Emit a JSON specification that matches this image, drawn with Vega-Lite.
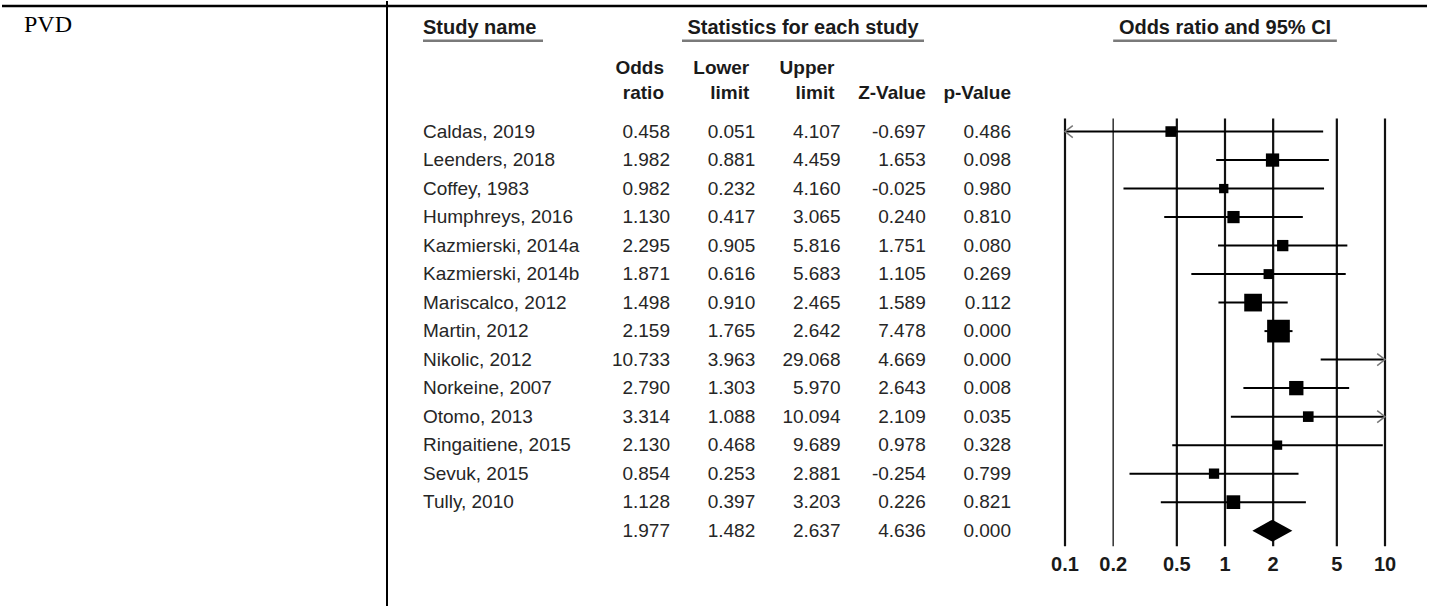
{
  "$schema": "https://vega.github.io/schema/vega-lite/v6.json",
  "width": 1429,
  "height": 607,
  "padding": 0,
  "autosize": {"type": "fit", "contains": "padding"},
  "background": "white",
  "config": {
    "view": {"stroke": null},
    "text": {"font": "Liberation Sans", "fontSize": 19, "color": "#262626"},
    "locale": {"number": {"decimal": ".", "thousands": ",", "grouping": [3], "currency": ["$", ""], "minus": "-"}}
  },
  "datasets": {
    "studies": [
      {"row": 0, "study": "Caldas, 2019", "or": 0.458, "lower": 0.051, "upper": 4.107, "z": -0.697, "p": 0.486, "weight": 4.7},
      {"row": 1, "study": "Leenders, 2018", "or": 1.982, "lower": 0.881, "upper": 4.459, "z": 1.653, "p": 0.098, "weight": 7.3},
      {"row": 2, "study": "Coffey, 1983", "or": 0.982, "lower": 0.232, "upper": 4.160, "z": -0.025, "p": 0.980, "weight": 3.6},
      {"row": 3, "study": "Humphreys, 2016", "or": 1.130, "lower": 0.417, "upper": 3.065, "z": 0.240, "p": 0.810, "weight": 6.2},
      {"row": 4, "study": "Kazmierski, 2014a", "or": 2.295, "lower": 0.905, "upper": 5.816, "z": 1.751, "p": 0.080, "weight": 5.3},
      {"row": 5, "study": "Kazmierski, 2014b", "or": 1.871, "lower": 0.616, "upper": 5.683, "z": 1.105, "p": 0.269, "weight": 4.1},
      {"row": 6, "study": "Mariscalco, 2012", "or": 1.498, "lower": 0.910, "upper": 2.465, "z": 1.589, "p": 0.112, "weight": 13.0},
      {"row": 7, "study": "Martin, 2012", "or": 2.159, "lower": 1.765, "upper": 2.642, "z": 7.478, "p": 0.000, "weight": 21.4},
      {"row": 8, "study": "Nikolic, 2012", "or": 10.733, "lower": 3.963, "upper": 29.068, "z": 4.669, "p": 0.000, "weight": 5.4},
      {"row": 9, "study": "Norkeine, 2007", "or": 2.790, "lower": 1.303, "upper": 5.970, "z": 2.643, "p": 0.008, "weight": 8.5},
      {"row": 10, "study": "Otomo, 2013", "or": 3.314, "lower": 1.088, "upper": 10.094, "z": 2.109, "p": 0.035, "weight": 4.7},
      {"row": 11, "study": "Ringaitiene, 2015", "or": 2.130, "lower": 0.468, "upper": 9.689, "z": 0.978, "p": 0.328, "weight": 3.6},
      {"row": 12, "study": "Sevuk, 2015", "or": 0.854, "lower": 0.253, "upper": 2.881, "z": -0.254, "p": 0.799, "weight": 4.4},
      {"row": 13, "study": "Tully, 2010", "or": 1.128, "lower": 0.397, "upper": 3.203, "z": 0.226, "p": 0.821, "weight": 7.8},
      {"row": 14, "study": "", "or": 1.977, "lower": 1.482, "upper": 2.637, "z": 4.636, "p": 0.000, "weight": 100}
    ],
    "ticks": [{"t": 0.1}, {"t": 0.2}, {"t": 0.5}, {"t": 1}, {"t": 2}, {"t": 5}, {"t": 10}],
    "subheads": [
      {"key": "or", "l1": "Odds", "l2": "ratio"},
      {"key": "lower", "l1": "Lower", "l2": "limit"},
      {"key": "upper", "l1": "Upper", "l2": "limit"},
      {"key": "z", "l1": "", "l2": "Z-Value"},
      {"key": "p", "l1": "", "l2": "p-Value"}
    ],
    "one": [{}]
  },
  "resolve": {"scale": {"x": "independent"}},
  "layer": [
    {
      "data": {"name": "one"},
      "mark": {"type": "rule", "stroke": "#000", "strokeWidth": 2.5},
      "encoding": {
        "y": {"datum": -4.406, "type": "quantitative", "axis": null, "scale": {"domain": [-4.58, 16.643], "reverse": true, "nice": false, "zero": false}}
      }
    },
    {
      "data": {"name": "one"},
      "mark": {"type": "rule", "stroke": "#000", "strokeWidth": 2},
      "encoding": {
        "x": {"datum": "border", "type": "nominal", "axis": null, "scale": {"type": "point", "domain": ["label", "border"], "range": [22, 385], "padding": 0}}
      }
    },
    {
      "data": {"name": "one"},
      "mark": {"type": "text", "text": "PVD", "align": "left", "baseline": "middle", "font": "Liberation Serif", "fontSize": 24, "color": "#000"},
      "encoding": {
        "x": {"datum": "label", "type": "nominal", "axis": null, "scale": {"type": "point", "domain": ["label", "border"], "range": [22, 385], "padding": 0}},
        "y": {"datum": -3.74, "type": "quantitative", "axis": null, "scale": {"domain": [-4.58, 16.643], "reverse": true, "nice": false, "zero": false}}
      }
    },
    {
      "data": {"name": "one"},
      "mark": {"type": "text", "text": "Study name", "align": "left", "baseline": "middle", "fontWeight": "bold", "fontSize": 20, "color": "#1a1a1a"},
      "encoding": {
        "x": {"datum": "a", "type": "nominal", "axis": null, "scale": {"type": "point", "domain": ["a", "b"], "range": [421, 541], "padding": 0}},
        "y": {"datum": -3.636, "type": "quantitative", "axis": null, "scale": {"domain": [-4.58, 16.643], "reverse": true, "nice": false, "zero": false}}
      }
    },
    {
      "data": {"name": "one"},
      "mark": {"type": "rule", "stroke": "#7a7a7a", "strokeWidth": 2.5},
      "encoding": {
        "x": {"datum": "a", "type": "nominal", "axis": null, "scale": {"type": "point", "domain": ["a", "b"], "range": [421, 541], "padding": 0}},
        "x2": {"datum": "b"},
        "y": {"datum": -3.182, "type": "quantitative", "axis": null, "scale": {"domain": [-4.58, 16.643], "reverse": true, "nice": false, "zero": false}}
      }
    },
    {
      "data": {"name": "one"},
      "mark": {"type": "text", "text": "Statistics for each study", "align": "center", "baseline": "middle", "fontWeight": "bold", "fontSize": 20, "color": "#1a1a1a"},
      "encoding": {
        "x": {"datum": "m", "type": "nominal", "axis": null, "scale": {"type": "point", "domain": ["a", "m", "b"], "range": [680, 922], "padding": 0}},
        "y": {"datum": -3.636, "type": "quantitative", "axis": null, "scale": {"domain": [-4.58, 16.643], "reverse": true, "nice": false, "zero": false}}
      }
    },
    {
      "data": {"name": "one"},
      "mark": {"type": "rule", "stroke": "#7a7a7a", "strokeWidth": 2.5},
      "encoding": {
        "x": {"datum": "a", "type": "nominal", "axis": null, "scale": {"type": "point", "domain": ["a", "m", "b"], "range": [680, 922], "padding": 0}},
        "x2": {"datum": "b"},
        "y": {"datum": -3.182, "type": "quantitative", "axis": null, "scale": {"domain": [-4.58, 16.643], "reverse": true, "nice": false, "zero": false}}
      }
    },
    {
      "data": {"name": "subheads"},
      "transform": [{"filter": "datum.key != 'z' && datum.key != 'p'"}],
      "mark": {"type": "text", "align": "right", "baseline": "middle", "fontWeight": "bold", "color": "#1a1a1a", "dx": -6},
      "encoding": {
        "x": {"field": "key", "type": "nominal", "axis": null, "scale": {"type": "point", "domain": ["or", "lower", "upper", "z", "p"], "range": [668, 1009], "padding": 0}},
        "y": {"datum": -2.238, "type": "quantitative", "axis": null, "scale": {"domain": [-4.58, 16.643], "reverse": true, "nice": false, "zero": false}},
        "text": {"field": "l1", "type": "nominal"}
      }
    },
    {
      "data": {"name": "subheads"},
      "transform": [{"filter": "datum.key != 'z' && datum.key != 'p'"}],
      "mark": {"type": "text", "align": "right", "baseline": "middle", "fontWeight": "bold", "color": "#1a1a1a", "dx": -6},
      "encoding": {
        "x": {"field": "key", "type": "nominal", "axis": null, "scale": {"type": "point", "domain": ["or", "lower", "upper", "z", "p"], "range": [668, 1009], "padding": 0}},
        "y": {"datum": -1.364, "type": "quantitative", "axis": null, "scale": {"domain": [-4.58, 16.643], "reverse": true, "nice": false, "zero": false}},
        "text": {"field": "l2", "type": "nominal"}
      }
    },
    {
      "data": {"name": "subheads"},
      "transform": [{"filter": "datum.key == 'z' || datum.key == 'p'"}],
      "mark": {"type": "text", "align": "right", "baseline": "middle", "fontWeight": "bold", "color": "#1a1a1a"},
      "encoding": {
        "x": {"field": "key", "type": "nominal", "axis": null, "scale": {"type": "point", "domain": ["or", "lower", "upper", "z", "p"], "range": [668, 1009], "padding": 0}},
        "y": {"datum": -1.364, "type": "quantitative", "axis": null, "scale": {"domain": [-4.58, 16.643], "reverse": true, "nice": false, "zero": false}},
        "text": {"field": "l2", "type": "nominal"}
      }
    },
    {
      "data": {"name": "studies"},
      "mark": {"type": "text", "align": "left", "baseline": "middle"},
      "encoding": {
        "x": {"datum": "a", "type": "nominal", "axis": null, "scale": {"type": "point", "domain": ["a", "b"], "range": [421, 541], "padding": 0}},
        "y": {"field": "row", "type": "quantitative", "axis": null, "scale": {"domain": [-4.58, 16.643], "reverse": true, "nice": false, "zero": false}},
        "text": {"field": "study", "type": "nominal"}
      }
    },
    {
      "data": {"name": "studies"},
      "transform": [{"fold": ["or", "lower", "upper", "z", "p"]}],
      "mark": {"type": "text", "align": "right", "baseline": "middle"},
      "encoding": {
        "x": {"field": "key", "type": "nominal", "axis": null, "scale": {"type": "point", "domain": ["or", "lower", "upper", "z", "p"], "range": [668, 1009], "padding": 0}},
        "y": {"field": "row", "type": "quantitative", "axis": null, "scale": {"domain": [-4.58, 16.643], "reverse": true, "nice": false, "zero": false}},
        "text": {"field": "value", "type": "quantitative", "format": ".3f"}
      }
    },
    {
      "data": {"name": "ticks"},
      "mark": {"type": "rule", "stroke": "#111"},
      "encoding": {
        "x": {"field": "t", "type": "quantitative", "axis": null, "scale": {"type": "log", "domain": [0.1, 10], "range": [1063, 1383], "clamp": true, "nice": false}},
        "y": {"datum": -0.455, "type": "quantitative", "axis": null, "scale": {"domain": [-4.58, 16.643], "reverse": true, "nice": false, "zero": false}},
        "y2": {"datum": 14.545},
        "strokeWidth": {"condition": {"test": "datum.t == 0.2", "value": 1.3}, "value": 2.2}
      }
    },
    {
      "data": {"name": "ticks"},
      "mark": {"type": "text", "align": "center", "baseline": "middle", "fontWeight": "bold", "fontSize": 20, "color": "#1a1a1a"},
      "encoding": {
        "x": {"field": "t", "type": "quantitative", "axis": null, "scale": {"type": "log", "domain": [0.1, 10], "range": [1063, 1383], "clamp": true, "nice": false}},
        "y": {"datum": 15.21, "type": "quantitative", "axis": null, "scale": {"domain": [-4.58, 16.643], "reverse": true, "nice": false, "zero": false}},
        "text": {"field": "t", "type": "nominal"}
      }
    },
    {
      "data": {"name": "one"},
      "mark": {"type": "text", "text": "Odds ratio and 95% CI", "align": "center", "baseline": "middle", "fontWeight": "bold", "fontSize": 20, "color": "#1a1a1a"},
      "encoding": {
        "x": {"datum": 1, "type": "quantitative", "axis": null, "scale": {"type": "log", "domain": [0.1, 10], "range": [1063, 1383], "clamp": true, "nice": false}},
        "y": {"datum": -3.636, "type": "quantitative", "axis": null, "scale": {"domain": [-4.58, 16.643], "reverse": true, "nice": false, "zero": false}}
      }
    },
    {
      "data": {"name": "one"},
      "mark": {"type": "rule", "stroke": "#7a7a7a", "strokeWidth": 2.5},
      "encoding": {
        "x": {"datum": 0.2, "type": "quantitative", "axis": null, "scale": {"type": "log", "domain": [0.1, 10], "range": [1063, 1383], "clamp": true, "nice": false}},
        "x2": {"datum": 5},
        "y": {"datum": -3.182, "type": "quantitative", "axis": null, "scale": {"domain": [-4.58, 16.643], "reverse": true, "nice": false, "zero": false}}
      }
    },
    {
      "data": {"name": "studies"},
      "transform": [{"filter": "datum.row < 14"}],
      "mark": {"type": "rule", "stroke": "#000", "strokeWidth": 2},
      "encoding": {
        "x": {"field": "lower", "type": "quantitative", "axis": null, "scale": {"type": "log", "domain": [0.1, 10], "range": [1063, 1383], "clamp": true, "nice": false}},
        "x2": {"field": "upper"},
        "y": {"field": "row", "type": "quantitative", "axis": null, "scale": {"domain": [-4.58, 16.643], "reverse": true, "nice": false, "zero": false}}
      }
    },
    {
      "data": {"name": "studies"},
      "transform": [{"filter": "datum.lower < 0.1"}],
      "mark": {"type": "point", "shape": "M1.3,-1L0,0L1.3,1", "size": 144, "filled": false, "stroke": "#777", "strokeWidth": 1.5, "opacity": 1},
      "encoding": {
        "x": {"datum": 0.1, "type": "quantitative", "axis": null, "scale": {"type": "log", "domain": [0.1, 10], "range": [1063, 1383], "clamp": true, "nice": false}},
        "y": {"field": "row", "type": "quantitative", "axis": null, "scale": {"domain": [-4.58, 16.643], "reverse": true, "nice": false, "zero": false}}
      }
    },
    {
      "data": {"name": "studies"},
      "transform": [{"filter": "datum.upper > 10"}],
      "mark": {"type": "point", "shape": "M-1.3,-1L0,0L-1.3,1", "size": 144, "filled": false, "stroke": "#777", "strokeWidth": 1.5, "opacity": 1},
      "encoding": {
        "x": {"datum": 10, "type": "quantitative", "axis": null, "scale": {"type": "log", "domain": [0.1, 10], "range": [1063, 1383], "clamp": true, "nice": false}},
        "y": {"field": "row", "type": "quantitative", "axis": null, "scale": {"domain": [-4.58, 16.643], "reverse": true, "nice": false, "zero": false}}
      }
    },
    {
      "data": {"name": "studies"},
      "transform": [{"filter": "datum.row < 14 && datum.or <= 10"}],
      "mark": {"type": "point", "shape": "square", "filled": true, "color": "#000", "opacity": 1},
      "encoding": {
        "x": {"field": "or", "type": "quantitative", "axis": null, "scale": {"type": "log", "domain": [0.1, 10], "range": [1063, 1383], "clamp": true, "nice": false}},
        "y": {"field": "row", "type": "quantitative", "axis": null, "scale": {"domain": [-4.58, 16.643], "reverse": true, "nice": false, "zero": false}},
        "size": {"field": "weight", "type": "quantitative", "legend": null, "scale": {"domain": [0, 100], "range": [0, 2411]}}
      }
    },
    {
      "data": {"name": "studies"},
      "transform": [{"filter": "datum.row == 14"}],
      "mark": {"type": "point", "shape": "M-1,0L0,-0.55L1,0L0,0.55Z", "size": 1600, "filled": true, "color": "#000", "opacity": 1},
      "encoding": {
        "x": {"field": "or", "type": "quantitative", "axis": null, "scale": {"type": "log", "domain": [0.1, 10], "range": [1063, 1383], "clamp": true, "nice": false}},
        "y": {"field": "row", "type": "quantitative", "axis": null, "scale": {"domain": [-4.58, 16.643], "reverse": true, "nice": false, "zero": false}}
      }
    }
  ]
}
